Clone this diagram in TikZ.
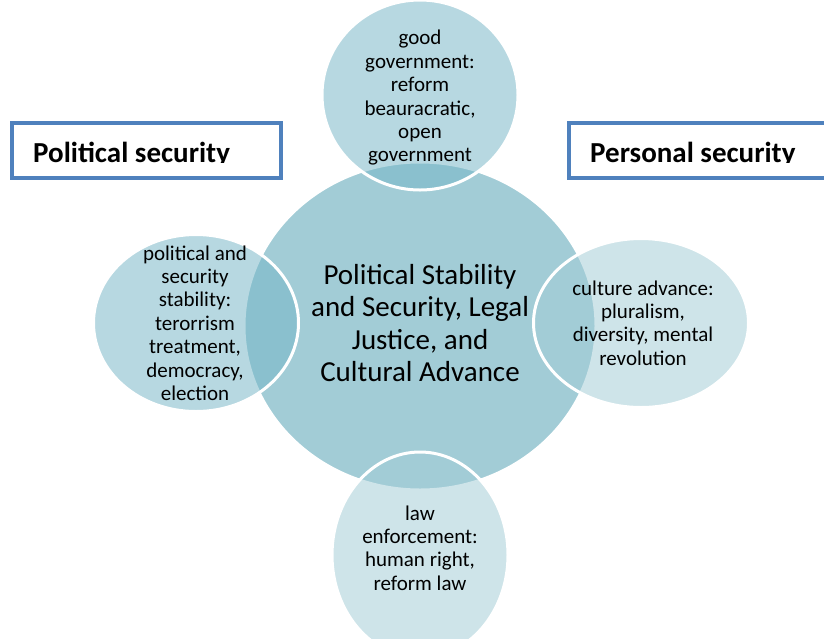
\documentclass[tikz,border=0pt]{standalone}
\usepackage{fontspec}
\setmainfont{Carlito}
\usetikzlibrary{shapes.geometric}
\definecolor{mainfill}{RGB}{162,204,214}
\definecolor{satfill}{RGB}{117,182,199}
\definecolor{boxblue}{RGB}{79,129,189}
\begin{document}
\begin{tikzpicture}[x=1pt,y=-1pt,
  mainshape/.style={ellipse, draw=white, line width=3pt, fill=mainfill, inner sep=0pt},
  darksat/.style={ellipse, draw=white, line width=3pt, fill=satfill, fill opacity=0.52, inner sep=0pt},
  lightsat/.style={ellipse, draw=white, line width=3pt, fill=mainfill, fill opacity=0.52, inner sep=0pt},
  sattext/.style={align=center, inner sep=0pt, font=\fontsize{21}{23.4}\selectfont},
  maintext/.style={align=center, inner sep=0pt, font=\fontsize{29}{32.5}\selectfont},
  titlebox/.style={draw=boxblue, fill=white, line width=3.5pt, inner sep=0pt, minimum width=269pt, minimum height=55pt, anchor=north west},
  titletext/.style={inner sep=0pt, anchor=base west, font=\fontsize{29}{34}\selectfont\bfseries}
]
\useasboundingbox (0,0) rectangle (824,638);
\clip (0,0) rectangle (824,638);
\fill[white] (0,0) rectangle (824,638);

\node[mainshape, minimum width=352pt, minimum height=328pt] (center) at (420,326) {};
\node[darksat, minimum width=196pt, minimum height=190pt] (top) at (420,95) {};
\node[darksat, minimum width=205pt, minimum height=177pt] (left) at (196,323) {};
\node[lightsat, minimum width=215pt, minimum height=169pt] (right) at (641,323) {};
\node[lightsat, minimum width=176pt, minimum height=206pt] (bottom) at (420,555) {};

\node[maintext] (ctext) at (420,323) {Political Stability\\and Security, Legal\\Justice, and\\Cultural Advance};
\node[sattext] (ttext) at (420,98) {good\\government:\\reform\\beauracratic,\\open\\government};
\node[sattext] (ltext) at (195,323) {political and\\security\\stability:\\terorrism\\treatment,\\democracy,\\election};
\node[sattext] (rtext) at (643,323) {culture advance:\\pluralism,\\diversity, mental\\revolution};
\node[sattext] (btext) at (420,548) {law\\enforcement:\\human right,\\reform law};

\node[titlebox] (lbox) at (10,121) {};
\node[titlebox] (rbox) at (567,121) {};
\begin{scope}
\clip (0,0) rectangle (824,162.5);
\node[titletext] (ltitle) at (33,162) {Political security};
\node[titletext] (rtitle) at (590,162) {Personal security};
\end{scope}
\end{tikzpicture}
\end{document}
